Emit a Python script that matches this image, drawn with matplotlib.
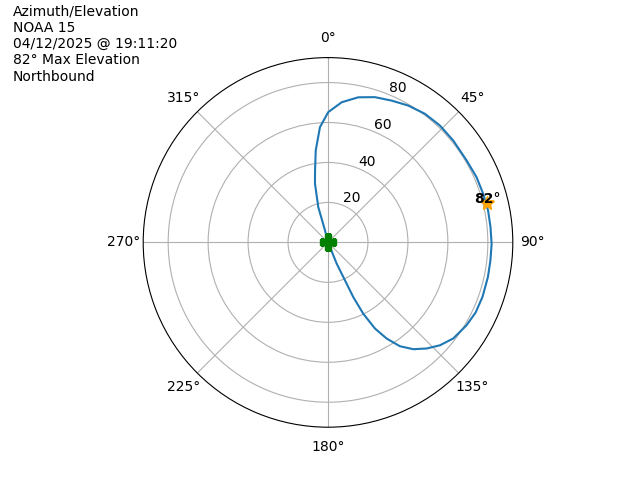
import numpy as np
import matplotlib
matplotlib.use('Agg')
import matplotlib.pyplot as plt

# --- Pass track (azimuth in degrees, plotted radius = elevation) ---
azimuthDeg = [157, 157, 157.8, 155.9, 155.2, 153.7, 151.4, 148.6, 145.3, 141.4,
              137.1, 132.6, 127.5, 120.9, 115.4, 109.4, 102.2, 96.3, 90.5,
              84.6, 78.7, 72.6, 66.3, 59.4, 50.9, 43.8, 37, 30.4, 24.2, 17.9,
              11.8, 5.6, 0.1, 356, 352.4, 349.8, 347.5, 344.6, 346, 345]
elevation = [0, 2.6, 11.5, 20.8, 30.1, 39.8, 49.1, 56.4, 63.2, 68.4,
             72.5, 76.1, 79, 80.8, 81.8, 82, 81.9, 81.8, 81.9,
             81.7, 81.7, 81.4, 81.2, 80.6, 80.8, 81, 80.6, 79.4, 77.8, 76.4,
             74.2, 70.5, 65.2, 57.8, 46.4, 36.6, 30.1, 18.3, 6.2, 0]

maxAz = 76
maxEl = 82
satName = 'NOAA 15'
passTime = '04/12/2025 @ 19:11:20'
direction = 'Northbound'

theta = np.unwrap(np.radians(azimuthDeg))

fig = plt.figure(figsize=(6.4, 4.8), dpi=100)
ax = fig.add_subplot(111, projection='polar')
ax.set_theta_zero_location('N')
ax.set_theta_direction(-1)

ax.plot(theta, elevation, color='#1f77b4', lw=1.5)
ax.plot(np.radians(maxAz), maxEl, marker='*', color='orange', markersize=10)
ax.text(np.radians(maxAz), maxEl, f'{maxEl}°', ha='center', va='baseline',
        fontsize=10, fontweight='bold')
ax.plot(theta[0], elevation[0], marker='P', color='green', markersize=12)

ax.set_rlim(0, 92.5)
ax.set_rticks([20, 40, 60, 80])
ax.grid(True)

fig.text(0.02, 0.99,
         f'Azimuth/Elevation\n{satName}\n{passTime}\n{maxEl}° Max Elevation\n{direction}',
         ha='left', va='top', fontsize=10)

plt.savefig('out.png', dpi=100)
plt.close()
